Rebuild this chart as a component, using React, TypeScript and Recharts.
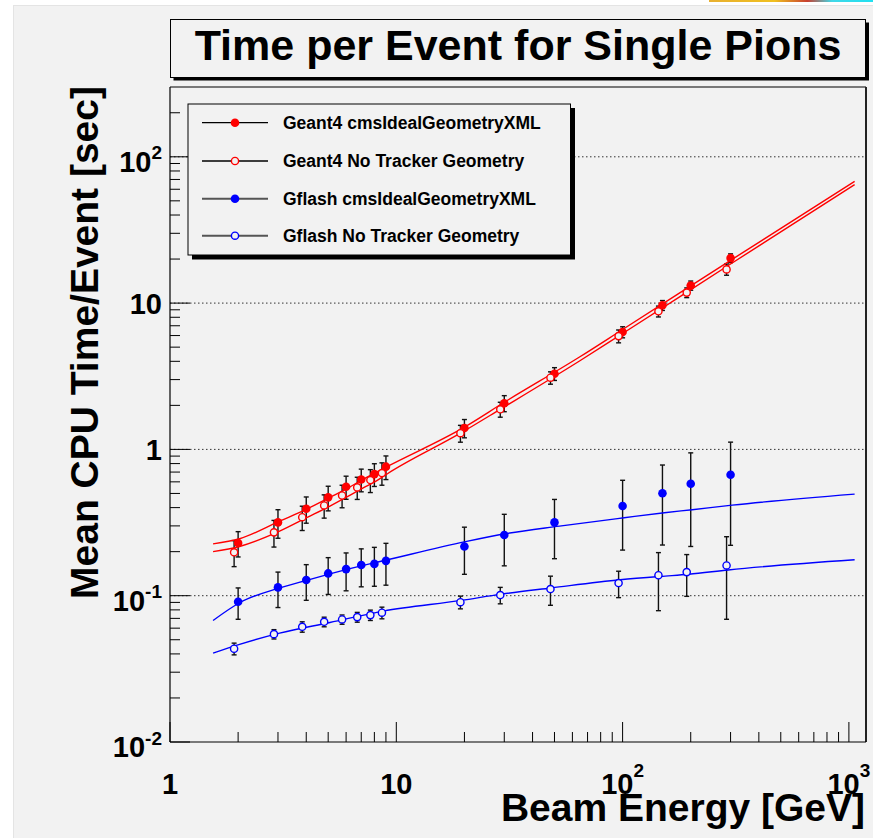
import React from 'react';
import { ComposedChart, Line, Scatter, XAxis, YAxis, ErrorBar, ReferenceLine } from 'recharts';

// beam energies in GeV (open markers are drawn a little to the left of the nominal value)
const energy = [2, 3, 4, 5, 6, 7, 8, 9, 20, 30, 50, 100, 150, 200, 300];
const energyOpen = [1.92, 2.88, 3.84, 4.8, 5.76, 6.72, 7.68, 8.64, 19.2, 28.8, 48, 96, 144, 192, 288];

// mean CPU time per event [sec] and its error
const g4Full = [0.229, 0.317, 0.393, 0.47, 0.556, 0.623, 0.678, 0.762, 1.4, 2.07, 3.29, 6.34, 9.66, 13.2, 20.3];
const g4FullErr = [0.045, 0.07, 0.08, 0.09, 0.1, 0.11, 0.12, 0.14, 0.2, 0.26, 0.33, 0.55, 0.75, 0.95, 1.4];
const g4NoTrk = [0.198, 0.271, 0.344, 0.414, 0.484, 0.55, 0.617, 0.689, 1.29, 1.88, 3.09, 5.95, 8.79, 11.8, 17.0];
const g4NoTrkErr = [0.04, 0.056, 0.065, 0.075, 0.085, 0.095, 0.11, 0.12, 0.17, 0.22, 0.3, 0.6, 0.75, 0.9, 1.5];
const gfFull = [0.091, 0.114, 0.128, 0.142, 0.152, 0.162, 0.165, 0.173, 0.217, 0.26, 0.317, 0.41, 0.502, 0.582, 0.671];
const gfFullErr = [0.022, 0.031, 0.035, 0.04, 0.044, 0.047, 0.049, 0.055, 0.077, 0.1, 0.138, 0.205, 0.28, 0.365, 0.45];
const gfNoTrk = [0.0434, 0.0546, 0.0613, 0.0663, 0.0688, 0.0714, 0.0737, 0.0765, 0.0903, 0.101, 0.111, 0.122, 0.138, 0.145, 0.161];
const gfNoTrkErr = [0.004, 0.004, 0.005, 0.005, 0.005, 0.0055, 0.006, 0.007, 0.009, 0.013, 0.025, 0.025, 0.059, 0.046, 0.092];

// fitted curves
const g4FullFitE = [1.55, 2.03, 3.05, 4.06, 5.09, 6.11, 7.11, 8.14, 9.14, 20, 30, 64.5, 100, 300, 1060];
const g4FullFitT = [0.226, 0.245, 0.323, 0.393, 0.47, 0.544, 0.623, 0.696, 0.765, 1.42, 2.1, 4.28, 6.6, 19.6, 68];
const g4NoTrkFitE = [1.55, 2.03, 3.05, 4.06, 5.09, 6.11, 7.11, 8.14, 9.14, 19.2, 28.8, 64.5, 100, 300, 1060];
const g4NoTrkFitT = [0.2, 0.217, 0.276, 0.344, 0.41, 0.477, 0.544, 0.607, 0.682, 1.29, 1.88, 4.02, 6.2, 18.5, 64.6];
const gfFullFitE = [1.55, 2.03, 3.05, 4.06, 5.09, 6.11, 9.14, 20.2, 30.3, 52.6, 101.6, 153, 203, 305, 1060];
const gfFullFitT = [0.0677, 0.0895, 0.113, 0.128, 0.141, 0.152, 0.176, 0.234, 0.265, 0.299, 0.341, 0.369, 0.387, 0.416, 0.495];
const gfNoTrkFitE = [1.55, 2.03, 3.05, 5.09, 8.77, 19.4, 29.2, 48.4, 97.6, 147, 196, 293, 1060];
const gfNoTrkFitT = [0.0405, 0.0465, 0.0555, 0.0656, 0.0785, 0.0929, 0.1025, 0.113, 0.1285, 0.1355, 0.14, 0.15, 0.176];

// axis ticks
const xMajor = [1, 10, 100, 1000];
const xLabels = [['1', ''], ['10', ''], ['10', '2'], ['10', '3']];
const yMajor = [0.01, 0.1, 1, 10, 100];
const yLabels = [['10', '-2'], ['10', '-1'], ['1', ''], ['10', ''], ['10', '2']];
const minorSteps = [2, 3, 4, 5, 6, 7, 8, 9];

const X_MAX = 1190;
const Y_MIN = 0.01;
const Y_MAX = 300;

const xTicks = [...xMajor, ...[1, 10, 100].flatMap((d) => minorSteps.map((k) => d * k))];
const yTicks = [...yMajor, ...yMajor.flatMap((d) => minorSteps.map((k) => d * k)).filter((v) => v < Y_MAX)];

const RED = '#ff0000';
const BLUE = '#0000ff';
const BG = '#f2f2f2';
const FONT = '"Liberation Sans", Arial, Helvetica, sans-serif';

const points = (xs: number[], ys: number[], es: number[]) =>
  xs.map((x, i) => ({ x, y: ys[i], err: es[i] }));
const curve = (xs: number[], ys: number[]) => xs.map((x, i) => ({ x, y: ys[i] }));

const series = [
  { name: 'Geant4 cmsIdealGeometryXML', color: RED, open: false, data: points(energy, g4Full, g4FullErr), fit: curve(g4FullFitE, g4FullFitT), legendLine: '#000' },
  { name: 'Geant4 No Tracker Geometry', color: RED, open: true, data: points(energyOpen, g4NoTrk, g4NoTrkErr), fit: curve(g4NoTrkFitE, g4NoTrkFitT), legendLine: '#000' },
  { name: 'Gflash cmsIdealGeometryXML', color: BLUE, open: false, data: points(energy, gfFull, gfFullErr), fit: curve(gfFullFitE, gfFullFitT), legendLine: '#555' },
  { name: 'Gflash No Tracker Geometry', color: BLUE, open: true, data: points(energyOpen, gfNoTrk, gfNoTrkErr), fit: curve(gfNoTrkFitE, gfNoTrkFitT), legendLine: '#555' },
];

const Marker = ({ cx, cy, color, open }: { cx: number; cy: number; color: string; open: boolean }) =>
  open ? (
    <circle cx={cx} cy={cy} r={3.6} fill={BG} stroke={color} strokeWidth={1.4} />
  ) : (
    <circle cx={cx} cy={cy} r={4.3} fill={color} />
  );

const XTick = (props: any) => {
  const { x, y, payload } = props;
  const idx = xMajor.indexOf(payload.value);
  const major = idx >= 0;
  return (
    <g>
      <line x1={x} x2={x} y1={y} y2={y - (major ? 20 : 10)} stroke="#000" strokeWidth={1} />
      {major && (
        <text x={x} y={y + 52} textAnchor="middle" fontFamily={FONT} fontWeight="bold" fontSize={29} fill="#000">
          {xLabels[idx][0]}
          {xLabels[idx][1] && (
            <tspan dy={-17} fontSize={19}>
              {xLabels[idx][1]}
            </tspan>
          )}
        </text>
      )}
    </g>
  );
};

const YTick = (props: any) => {
  const { x, y, payload } = props;
  const idx = yMajor.indexOf(payload.value);
  const major = idx >= 0;
  const exp = major ? yLabels[idx][1] : '';
  return (
    <g>
      <line x1={x} x2={x + (major ? 20 : 10)} y1={y} y2={y} stroke="#000" strokeWidth={1} />
      {major && (
        <text x={x - 8} y={y + (exp ? 15 : 11)} textAnchor="end" fontFamily={FONT} fontWeight="bold" fontSize={29} fill="#000">
          {yLabels[idx][0]}
          {exp && (
            <tspan dy={-12.5} fontSize={19}>
              {exp}
            </tspan>
          )}
        </text>
      )}
    </g>
  );
};

const Overlay = () => {
  const rowY = [122.7, 161, 198.7, 235.7];
  return (
    <svg width={873} height={838} style={{ position: 'absolute', left: 0, top: 0, pointerEvents: 'none' }}>
      {/* title box */}
      <rect x={173.5} y={22.5} width={695.5} height={58} fill="#000" />
      <rect x={170.5} y={19.5} width={695} height={58} fill={BG} stroke="#000" strokeWidth={1} />
      <text x={518} y={59.5} textAnchor="middle" fontFamily={FONT} fontWeight="bold" fontSize={43} fill="#000">
        Time per Event for Single Pions
      </text>

      {/* legend */}
      <rect x={192} y={108} width={383} height={151.5} fill="#000" />
      <rect x={188} y={104} width={382.5} height={151} fill={BG} stroke="#000" strokeWidth={1} />
      {series.map((s, i) => (
        <g key={s.name}>
          <line x1={202} x2={268} y1={rowY[i]} y2={rowY[i]} stroke={s.legendLine} strokeWidth={s.legendLine === '#000' ? 1.3 : 2} />
          <Marker cx={235} cy={rowY[i]} color={s.color} open={s.open} />
          <text x={283} y={rowY[i] + 6.3} fontFamily={FONT} fontWeight="bold" fontSize={17.5} fill="#000">
            {s.name}
          </text>
        </g>
      ))}

      {/* axis titles */}
      <text transform="translate(97.5,86) rotate(-90)" textAnchor="end" fontFamily={FONT} fontWeight="bold" fontSize={39} fill="#000">
        Mean CPU Time/Event [sec]
      </text>
      <text x={865} y={821} textAnchor="end" fontFamily={FONT} fontWeight="bold" fontSize={39} fill="#000">
        Beam Energy [GeV]
      </text>
    </svg>
  );
};

const App = () => {
  return (
    <div style={{ position: 'absolute', left: 0, top: 0, width: 873, height: 838, background: '#fff', overflow: 'hidden' }}>
      <div style={{ position: 'absolute', left: 13, top: 5, right: 0, bottom: 0, background: BG, borderLeft: '1px solid #e4e4e4', borderTop: '1px solid #e4e4e4' }} />
      <div style={{ position: 'absolute', left: 709, top: 0, width: 164, height: 2, background: 'linear-gradient(90deg, #e8b030, #f0c020 40%, #c84030 60%, #40d8e8 75%, #20e0f0)' }} />
      <div style={{ position: 'absolute', left: 0, top: 0 }}>
        <ComposedChart width={873} height={838} margin={{ top: 87, right: 7, bottom: 0, left: 0 }}>
          <XAxis
            type="number"
            dataKey="x"
            scale="log"
            domain={[1, X_MAX]}
            allowDataOverflow
            ticks={xTicks}
            interval={0}
            height={96}
            tickSize={0}
            tickMargin={0}
            tickLine={false}
            axisLine={{ stroke: '#000', strokeWidth: 1.2 }}
            tick={(p: any) => <XTick {...p} />}
          />
          <YAxis
            type="number"
            dataKey="y"
            scale="log"
            domain={[Y_MIN, Y_MAX]}
            allowDataOverflow
            ticks={yTicks}
            interval={0}
            width={170}
            tickSize={0}
            tickMargin={0}
            tickLine={false}
            axisLine={{ stroke: '#000', strokeWidth: 1.2 }}
            tick={(p: any) => <YTick {...p} />}
          />
          {yMajor.slice(1).map((v) => (
            <ReferenceLine key={`grid-${v}`} y={v} stroke="#333" strokeWidth={1} strokeDasharray="1.5 2.5" />
          ))}
          <ReferenceLine y={Y_MAX} stroke="#000" strokeWidth={1} />
          <ReferenceLine x={X_MAX} stroke="#222" strokeWidth={2} />
          {series.map((s) => (
            <Scatter
              key={`pts-${s.name}`}
              data={s.data}
              dataKey="y"
              fill={s.color}
              isAnimationActive={false}
              shape={(p: any) => <Marker cx={p.cx} cy={p.cy} color={s.color} open={s.open} />}
            >
              <ErrorBar dataKey="err" direction="y" width={2.5} stroke="#111" strokeWidth={1.4} />
            </Scatter>
          ))}
          {series.map((s) => (
            <Line
              key={`fit-${s.name}`}
              data={s.fit}
              dataKey="y"
              type="monotone"
              stroke={s.color}
              strokeWidth={1.4}
              dot={false}
              activeDot={false}
              isAnimationActive={false}
            />
          ))}
        </ComposedChart>
      </div>
      <Overlay />
    </div>
  );
};

export default App;
